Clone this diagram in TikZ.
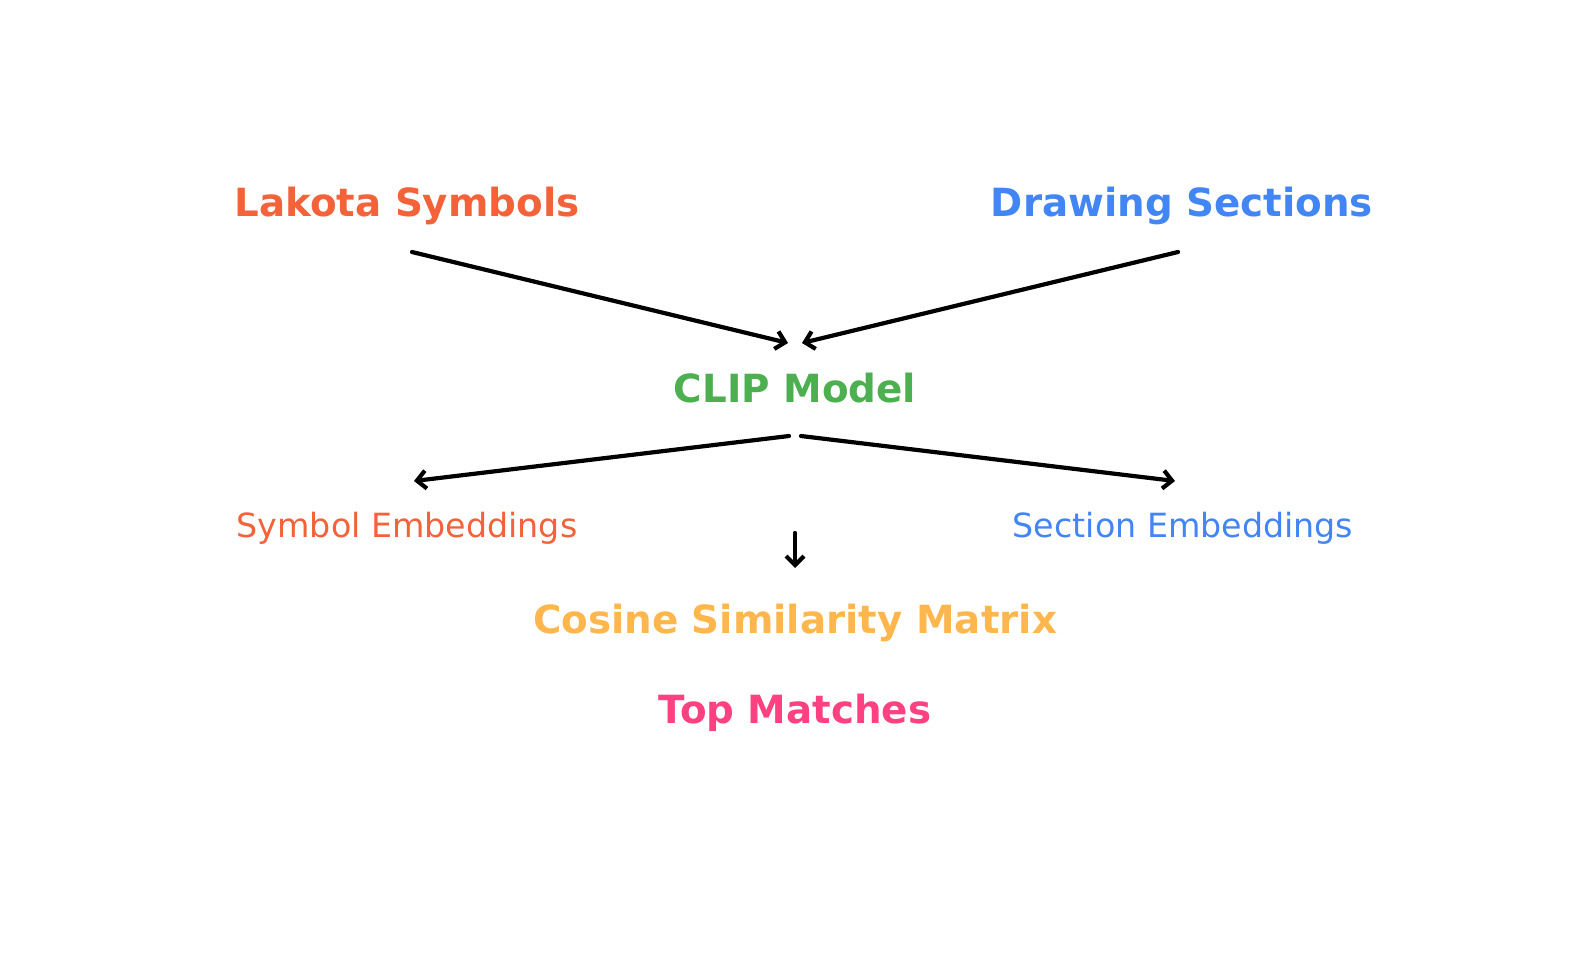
\documentclass[tikz,border=0pt]{standalone}
\usepackage{fontspec}
\setmainfont{DejaVu Sans}
\usetikzlibrary{arrows.meta}
\definecolor{cred}{HTML}{F4623A}
\definecolor{cblue}{HTML}{4285F4}
\definecolor{cgreen}{HTML}{4CAF50}
\definecolor{corange}{HTML}{FFB74D}
\definecolor{cpink}{HTML}{FF4081}
\tikzset{
  title/.style={font=\fontsize{38.8}{42}\selectfont\bfseries, inner sep=0pt, anchor=base},
  sub/.style={font=\fontsize{33.3}{38}\selectfont, inner sep=0pt, anchor=base},
  conn/.style={line width=4.2pt, line cap=round, -{Straight Barb[length=9pt,width=18pt,line width=4.2pt]}}
}
\begin{document}
\begin{tikzpicture}[x=1pt,y=-1pt]
\useasboundingbox[fill=white] (0,0) rectangle (1589,964);
\node[title, text=cred] (lak) at (407,216) {Lakota Symbols};
\node[title, text=cblue] (draw) at (1182,216) {Drawing Sections};
\node[title, text=cgreen] (clip) at (795,402) {CLIP Model};
\node[sub, text=cred] (symemb) at (407,537) {Symbol Embeddings};
\node[sub, text=cblue] (secemb) at (1183,537) {Section Embeddings};
\node[title, text=corange] (cos) at (795,633) {Cosine Similarity Matrix};
\node[title, text=cpink] (top) at (795,723) {Top Matches};
\coordinate (a1s) at (412,252);
\coordinate (a1e) at (788,343);
\coordinate (a2s) at (1178,252);
\coordinate (a2e) at (802,343);
\coordinate (a3s) at (789,436);
\coordinate (a3e) at (414,481);
\coordinate (a4s) at (801,436);
\coordinate (a4e) at (1175,481);
\coordinate (a5s) at (795,533);
\coordinate (a5e) at (795,568);
\draw[conn] (a1s) -- (a1e);
\draw[conn] (a2s) -- (a2e);
\draw[conn] (a3s) -- (a3e);
\draw[conn] (a4s) -- (a4e);
\draw[conn] (a5s) -- (a5e);
\end{tikzpicture}
\end{document}
